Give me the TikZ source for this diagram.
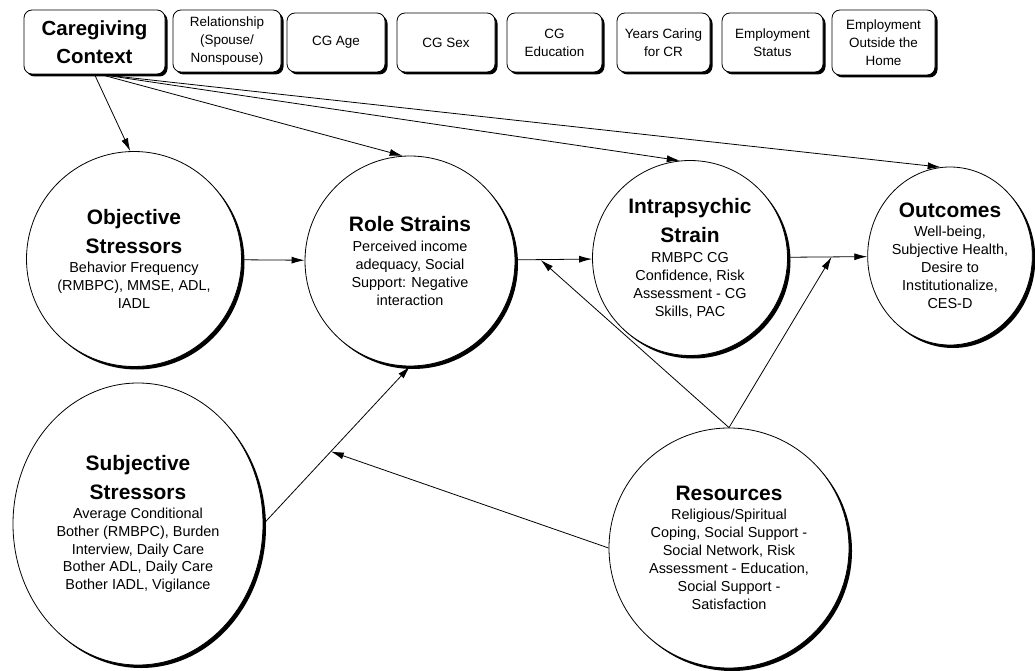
\documentclass[tikz,border=0pt]{standalone}
\usepackage{fontspec}
\setmainfont{Liberation Sans}
\usetikzlibrary{arrows.meta,shapes.geometric,shadows,calc}
\newcommand{\nodehead}[1]{{\fontsize{21}{24}\selectfont\bfseries #1}}

\begin{document}
\begin{tikzpicture}[x=1bp,y=-1bp,
    box/.style={draw,line width=0.8bp,rounded corners=8bp,fill=white,align=center,
      font=\fontsize{13.5}{18}\selectfont,inner sep=2bp,
      drop shadow={shadow xshift=2.5bp,shadow yshift=-2.5bp,opacity=1,fill=black}},
    blob/.style={draw,line width=0.8bp,circle,fill=white,align=center,inner sep=0pt,
      font=\fontsize{14.5}{18}\selectfont,
      drop shadow={shadow xshift=3bp,shadow yshift=-3bp,opacity=1,fill=black}},
    oval/.style={blob,ellipse},
    link/.style={line width=0.8bp,-{Latex[length=13bp,width=7bp]}}]
      \useasboundingbox (0,0) rectangle (1035,671);
      \node[box,minimum width=141bp,minimum height=64bp,
        font=\fontsize{20.5}{28}\selectfont\bfseries] (cc) at (94.5,42) {Caregiving\\Context};
      \node[box,minimum width=108bp,minimum height=62bp] (rel) at (227,41) {Relationship\\(Spouse/\\Nonspouse)};
      \node[box,minimum width=98bp,minimum height=59bp] (age) at (336,42.5) {CG Age};
      \node[box,minimum width=98bp,minimum height=59bp] (sex) at (446,42.5) {CG Sex};
      \node[box,minimum width=95bp,minimum height=59bp] (edu) at (554.5,42.5) {CG\\Education};
      \node[box,minimum width=93bp,minimum height=59bp] (yrs) at (663.5,42.5) {Years Caring\\for CR};
      \node[box,minimum width=101bp,minimum height=59bp] (emp) at (772.5,42.5) {Employment\\Status};
      \node[box,minimum width=103bp,minimum height=65bp] (home) at (883.5,42.5) {Employment\\Outside the\\Home};
      \node[blob,minimum size=215bp] (obj) at (134,259)
        {\nodehead{Objective}\\[9bp]\nodehead{Stressors}\\[1bp]Behavior Frequency\\(RMBPC), MMSE, ADL,\\IADL};
      \node[blob,minimum size=210bp] (role) at (410,261)
        {\nodehead{Role Strains}\\[2bp]Perceived income\\adequacy, Social\\Support: Negative\\interaction};
      \node[blob,minimum size=195bp] (intra) at (690,258)
        {\nodehead{Intrapsychic}\\[9bp]\nodehead{Strain}\\[2bp]RMBPC CG\\Confidence, Risk\\Assessment - CG\\Skills, PAC};
      \node[oval,minimum width=160bp,minimum height=178bp] (outc) at (950,256)
        {\nodehead{Outcomes}\\[1bp]Well-being,\\Subjective Health,\\Desire to\\Institutionalize,\\CES-D};
      \node[oval,minimum width=250bp,minimum height=282bp] (subj) at (138,524)
        {\nodehead{Subjective}\\[9bp]\nodehead{Stressors}\\[1bp]Average Conditional\\Bother (RMBPC), Burden\\Interview, Daily Care\\Bother ADL, Daily Care\\Bother IADL, Vigilance};
      \node[blob,minimum size=240bp] (res) at (729,548)
        {\nodehead{Resources}\\[1bp]Religious/Spiritual\\Coping, Social Support -\\Social Network, Risk\\Assessment - Education,\\Social Support -\\Satisfaction};
      \coordinate (m1) at ($(role.east)!0.33!(intra.west)$);
      \coordinate (m2) at ($(intra.east)!0.55!(outc.west)$);
      \coordinate (m3) at ($(subj.east)!0.46!(role.south)$);
      \draw[link] (cc.south) -- (obj.92);
      \draw[link] (cc.-80) -- (role.94);
      \draw[link] (cc.-80) -- (intra.96);
      \draw[link] (cc.-80) -- (outc.96);
      \draw[link] (obj) -- (role);
      \draw[link] (role) -- (intra);
      \draw[link] (intra) -- (outc);
      \draw[link] (subj.east) -- (role.south);
      \draw[link] (res.north) -- (m1);
      \draw[link] (res.north) -- (m2);
      \draw[link] (res.west) -- (m3);
    \end{tikzpicture}
\end{document}
